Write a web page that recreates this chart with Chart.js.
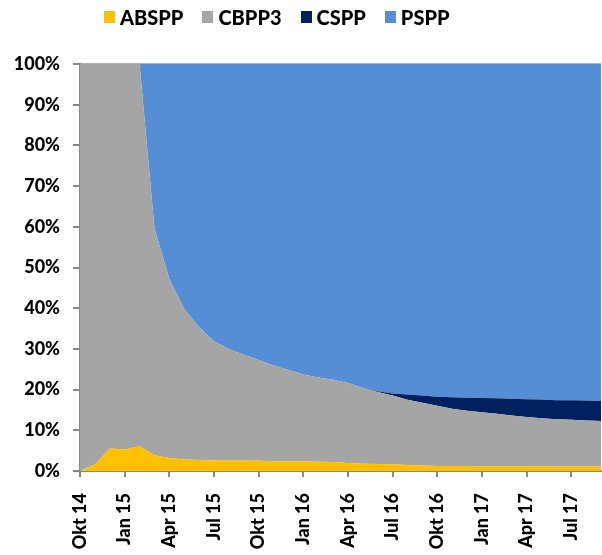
<!DOCTYPE html>
<html>
<head>
<meta charset="utf-8">
<script src="https://cdn.jsdelivr.net/npm/chart.js@4.4.1/dist/chart.umd.min.js"></script>
<style>
  body { margin: 0; background: #fff; }
  #wrap { position: relative; width: 602px; height: 555px; }
  #legend {
    position: absolute; top: 5px; left: 104px;
    display: flex; align-items: center;
    font-family: Lato, sans-serif; font-weight: 900; font-size: 20px; color: #000;
  }
  #legend .item { display: flex; align-items: center; margin-right: 19px; }
  #legend .box { width: 11px; height: 12px; margin-right: 5px; }
</style>
</head>
<body>
<div id="wrap">
  <div id="legend"></div>
  <canvas id="appChart" width="602" height="555"></canvas>
</div>
<script>
// Monthly share of each programme (%), Okt 14 - Sep 17
const months = ['Okt 14', 'Nov 14', 'Dez 14', 'Jan 15', 'Feb 15', 'Mär 15', 'Apr 15', 'Mai 15', 'Jun 15',
  'Jul 15', 'Aug 15', 'Sep 15', 'Okt 15', 'Nov 15', 'Dez 15', 'Jan 16', 'Feb 16', 'Mär 16', 'Apr 16',
  'Mai 16', 'Jun 16', 'Jul 16', 'Aug 16', 'Sep 16', 'Okt 16', 'Nov 16', 'Dez 16', 'Jan 17', 'Feb 17',
  'Mär 17', 'Apr 17', 'Mai 17', 'Jun 17', 'Jul 17', 'Aug 17', 'Sep 17'];

const abspp = [0, 1.6, 5.5, 5.3, 6.1, 3.9, 3.2, 2.8, 2.7, 2.6, 2.55, 2.55, 2.5, 2.4, 2.4, 2.4, 2.3, 2.2,
  1.95, 1.8, 1.7, 1.65, 1.5, 1.35, 1.25, 1.2, 1.2, 1.15, 1.15, 1.15, 1.15, 1.15, 1.1, 1.1, 1.1, 1.1];
const cbpp3 = [100, 98.4, 94.5, 94.7, 93.9, 55.8, 44.0, 37.0, 32.6, 29.3, 27.4, 26.0, 24.8, 23.5, 22.4, 21.3,
  20.7, 20.2, 19.7, 18.6, 17.7, 16.9, 16.0, 15.4, 14.8, 14.1, 13.6, 13.3, 12.9, 12.5, 12.1, 11.8, 11.6, 11.5,
  11.3, 11.2];
const cspp = [0, 0, 0, 0, 0, 0, 0, 0, 0, 0, 0, 0, 0, 0, 0, 0, 0, 0, 0, 0,
  0.2, 0.5, 1.3, 1.8, 2.2, 2.8, 3.2, 3.5, 3.8, 4.1, 4.4, 4.6, 4.7, 4.8, 4.9, 4.9];
const pspp = [0, 0, 0, 0, 0, 40.3, 52.8, 60.2, 64.7, 68.1, 70.1, 71.5, 72.7, 74.1, 75.2, 76.3, 77.0, 77.6,
  78.4, 79.6, 80.5, 81.0, 81.2, 81.5, 81.8, 81.9, 82.0, 82.1, 82.2, 82.3, 82.4, 82.5, 82.6, 82.6, 82.7, 82.8];

const yTicks = [0, 10, 20, 30, 40, 50, 60, 70, 80, 90, 100];

const seriesNames = ['ABSPP', 'CBPP3', 'CSPP', 'PSPP'];
const seriesColors = ['#FFC000', '#A5A5A5', '#002060', '#558ED5'];
const seriesData = [abspp, cbpp3, cspp, pspp];

document.addEventListener('DOMContentLoaded', function() {
  buildLegend();
  initializeChart();
});

function buildLegend() {
  const legend = document.getElementById('legend');
  seriesNames.forEach(function(name, i) {
    const item = document.createElement('div');
    item.className = 'item';
    item.innerHTML = '<span class="box" style="background:' + seriesColors[i] + '"></span>' + name;
    legend.appendChild(item);
  });
}

function initializeChart() {
  Chart.defaults.font.family = 'Lato, sans-serif';
  Chart.defaults.color = '#000';

  const ctx = document.getElementById('appChart').getContext('2d');
  new Chart(ctx, {
    type: 'line',
    data: {
      labels: months,
      datasets: seriesNames.map(function(name, i) {
        return {
          label: name,
          data: seriesData[i],
          backgroundColor: seriesColors[i],
          borderWidth: 0,
          pointRadius: 0,
          tension: 0,
          fill: i === 0 ? 'origin' : '-1'
        };
      })
    },
    options: {
      responsive: false,
      animation: false,
      layout: { padding: { top: 64, right: 1, left: 0, bottom: 0 } },
      plugins: {
        legend: { display: false },
        tooltip: { enabled: false }
      },
      scales: {
        x: {
          offset: false,
          grid: {
            drawOnChartArea: false,
            color: '#888',
            lineWidth: 2,
            tickLength: 6
          },
          border: { color: '#888', width: 2 },
          ticks: {
            autoSkip: false,
            maxRotation: 90,
            minRotation: 90,
            padding: 16,
            font: { size: 18, weight: '900' },
            callback: function(value, index) {
              return index % 3 === 0 ? months[index] : null;
            }
          },
          afterFit: function(scale) {
            scale.height = 84;
            scale.paddingLeft = 0;
            scale.paddingRight = 0;
          }
        },
        y: {
          stacked: true,
          min: 0,
          max: 100,
          z: 1,
          afterBuildTicks: function(scale) {
            scale.ticks = yTicks.map(function(v) { return { value: v }; });
          },
          grid: {
            drawOnChartArea: true,
            color: function(c) { return c.tick && c.tick.value === 100 ? '#b0b0b0' : 'rgba(0,0,0,0)'; },
            tickColor: '#888',
            lineWidth: 2,
            tickLength: 7
          },
          border: { color: '#888', width: 2 },
          ticks: {
            padding: 13,
            font: { size: 18, weight: '900' },
            callback: function(value) { return value + '%'; }
          },
          afterFit: function(scale) { scale.width = 80; }
        }
      }
    }
  });
}
</script>
</body>
</html>
